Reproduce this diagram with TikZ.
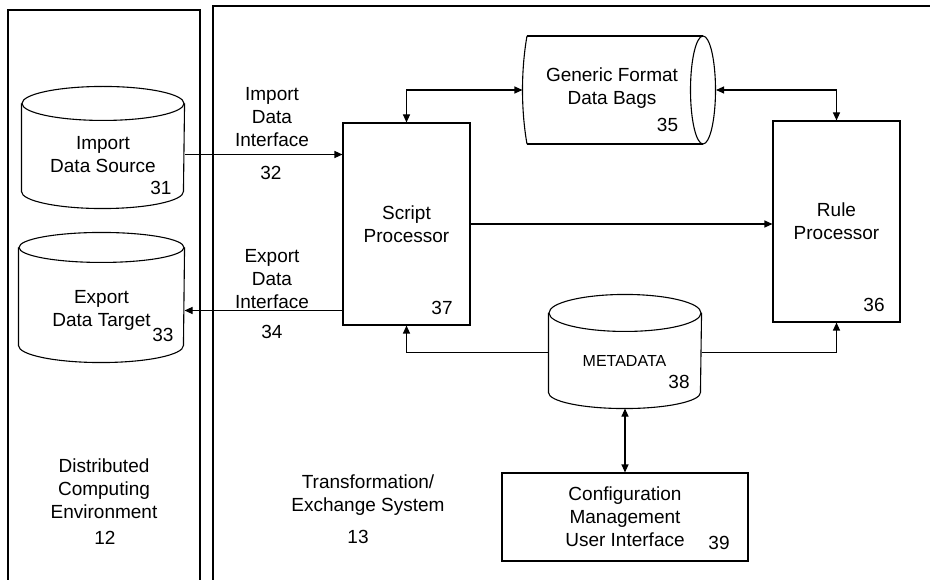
\documentclass[tikz,border=0pt]{standalone}
\usepackage{fontspec}
\setmainfont{Liberation Sans}
\usetikzlibrary{arrows.meta,positioning}

\begin{document}
\begin{tikzpicture}
[x=1pt,y=1pt,line width=1.1pt,font=\fontsize{19}{23}\selectfont,
 arr/.style={-{Triangle[length=8pt,width=7pt]}},
 dbl/.style={{Triangle[length=8pt,width=7pt]}-{Triangle[length=8pt,width=7pt]}},
 box/.style={draw,align=center,inner sep=0pt},
 body/.style={inner sep=0pt}]
\useasboundingbox (0,0) rectangle (930,-580);

% the two environments
\draw[line width=1.5pt] (8,-580) -- (8,-10) -- (200,-10) -- (200,-580);
\draw[line width=1.5pt] (213,-580) -- (213,-6) -- (930,-6);

% processors and user interface
\node[box,minimum width=127,minimum height=202] (script) at (406.5,-224) {Script\\Processor};
\node[box,minimum width=127,minimum height=201] (rule) at (836.5,-221.5) {Rule\\Processor};
\node[box,minimum width=246,minimum height=88] (config) at (625,-517) {Configuration\\Management\\User Interface};

% data stores
\node[body,minimum width=162,minimum height=87] (src) at (103,-147.5) {};
\node[body,minimum width=165,minimum height=97] (tgt) at (101.5,-296.5) {};
\node[body,minimum width=152,minimum height=78.5] (meta) at (625,-352.75) {};
\node[body,minimum width=192.5,minimum height=108] (bag) at (619.25,-90) {};

\draw (src.north west) -- (src.south west) arc[start angle=180,end angle=360,x radius=81,y radius=17] -- (src.north east);
\draw (src.north) ellipse [x radius=81,y radius=17];
\draw (tgt.north west) -- (tgt.south west) arc[start angle=180,end angle=360,x radius=82.5,y radius=17] -- (tgt.north east);
\draw (tgt.north) ellipse [x radius=82.5,y radius=15];
\draw (meta.north west) -- (meta.south west) arc[start angle=180,end angle=360,x radius=76,y radius=16] -- (meta.north east);
\draw (meta.north) ellipse [x radius=76,y radius=18.5];
\draw (527,-36) -- (703,-36);
\draw (527,-144) -- (703,-144);
\draw (527,-36) .. controls (521,-70) and (521,-110) .. (527,-144);
\draw (703,-90) ellipse [x radius=12.5,y radius=54];

% texts
\node[align=center] (srctext) at (103,-154.5) {Import\\Data Source};
\node (srcnum) at (161,-188) {31};
\node[align=center] (tgttext) at (101.5,-310.5) {Export\\Data Target};
\node (tgtnum) at (163,-335) {33};
\node[align=center] (bagtext) at (612,-88.5) {Generic Format\\Data Bags};
\node (bagnum) at (667.5,-125) {35};
\node[font=\fontsize{16}{20}\selectfont] (metatext) at (624.5,-361) {METADATA};
\node (metanum) at (679,-382) {38};
\node (scriptnum) at (442,-308) {37};
\node (rulenum) at (874,-305) {36};
\node (confignum) at (719,-543) {39};
\node[align=center] (imptext) at (272,-117) {Import\\Data\\Interface};
\node (impnum) at (271,-173) {32};
\node[align=center] (exptext) at (272,-279) {Export\\Data\\Interface};
\node (expnum) at (272,-332) {34};
\node[align=center] (dce) at (104,-489) {Distributed\\Computing\\Environment};
\node (dcenum) at (105,-538) {12};
\node[align=center] (tes) at (368,-495) {Transformation/\\Exchange System};
\node (tesnum) at (358,-537) {13};

% connectors
\draw[arr] (src.east |- srctext) -- (script.west |- srctext);
\draw[arr] (script.west |- tgttext) -- (tgt.east |- tgttext);
\draw[dbl] (script.north) |- (bag.west);
\draw[dbl] (bag.east) -| (rule.north);
\draw[arr] (script.east) -- (script.east -| rule.west);
\draw[arr] (meta.west) -| (script.south);
\draw[arr] (meta.east) -| (rule.south);
\draw[dbl] ([yshift=-16pt]meta.south) -- (config.north);
\end{tikzpicture}
\end{document}
